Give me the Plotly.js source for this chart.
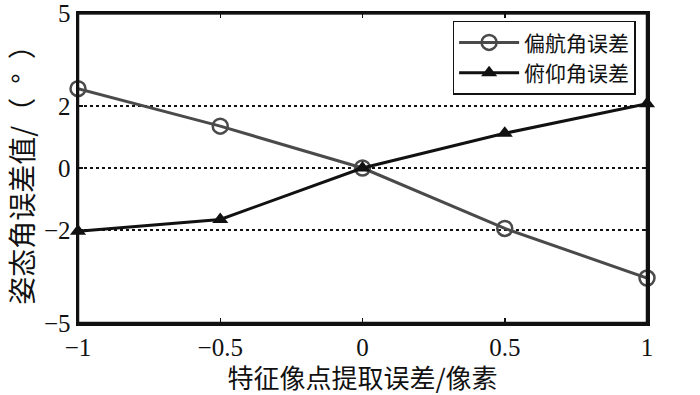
<!DOCTYPE html>
<html>
<head>
<meta charset="utf-8">
<script src="https://cdn.plot.ly/plotly-3.0.1.min.js"></script>
<style>html,body{margin:0;padding:0;background:#fff;}#chart{width:700px;height:395px;}</style>
</head>
<body>
<div id="chart"></div>
<script>
const xValues = [-1, -0.5, 0, 0.5, 1];
const yawError = [2.56, 1.35, 0, -1.95, -3.55];
const pitchError = [-2.04, -1.66, 0, 1.12, 2.07];
const seriesNames = ['偏航角误差', '俯仰角误差'];
const xTicks = [-1, -0.5, 0, 0.5, 1];
const xTickLabels = ['−1', '−0.5', '0', '0.5', '1'];
const yTicks = [-5, -2, 0, 2, 5];
const yTickLabels = ['−5', '−2', '0', '2', '5'];

const serif = 'Liberation Serif, Times New Roman, serif';
const cjk = 'Noto Sans CJK SC, sans-serif';

const traces = [
  {
    x: xValues, y: yawError, name: seriesNames[0], type: 'scatter', mode: 'lines+markers',
    line: {color: '#4a4a4a', width: 3},
    marker: {symbol: 'circle-open', size: 15, color: '#4a4a4a', line: {width: 2.5, color: '#4a4a4a'}},
    cliponaxis: false
  },
  {
    x: xValues, y: pitchError, name: seriesNames[1], type: 'scatter', mode: 'lines+markers',
    line: {color: '#111111', width: 3},
    marker: {symbol: 'triangle-up', size: 14, color: '#111111'},
    cliponaxis: false
  }
];

const layout = {
  width: 700, height: 395,
  margin: {l: 78, r: 53, t: 13, b: 72},
  paper_bgcolor: '#fff', plot_bgcolor: '#fff',
  showlegend: true,
  legend: {
    x: 0.98, y: 0.975, xanchor: 'right', yanchor: 'top',
    bordercolor: '#111', borderwidth: 1.5, bgcolor: '#fff',
    font: {family: cjk, size: 21, color: '#111'},
    itemwidth: 60,
    tracegroupgap: 0
  },
  xaxis: {
    range: [-1, 1], tickvals: xTicks, ticktext: xTickLabels,
    ticks: 'inside', ticklen: 5, tickwidth: 1.5, tickcolor: '#111',
    showline: true, linecolor: '#111', linewidth: 2.5, mirror: 'ticks',
    showgrid: false, zeroline: false, ticklabeloverflow: 'allow',
    tickfont: {family: serif, size: 25, color: '#111'},
    title: {text: '特征像点提取误差/像素', font: {family: cjk, size: 26, color: '#111'}, standoff: 6}
  },
  yaxis: {
    range: [-5, 5], tickvals: yTicks, ticktext: yTickLabels,
    ticks: 'inside', ticklen: 5, tickwidth: 1.5, tickcolor: '#111',
    showline: true, linecolor: '#111', linewidth: 2.5, mirror: 'ticks',
    showgrid: true, gridcolor: '#111', gridwidth: 2, griddash: 'dot',
    zeroline: false, ticklabeloverflow: 'allow',
    tickfont: {family: serif, size: 25, color: '#111'},
    title: {text: '姿态角误差值/（\u2002°\u2002）', font: {family: cjk, size: 28, color: '#111'}, standoff: 2}
  },
  shapes: [
    {type: 'line', xref: 'paper', yref: 'paper', x0: 0, x1: 1, y0: 1, y1: 1,
     line: {color: '#000', width: 3}, layer: 'above'},
    {type: 'rect', xref: 'paper', yref: 'paper', x0: 0, x1: 1, y0: 0, y1: 1,
     line: {color: '#111', width: 2.5}, fillcolor: 'rgba(0,0,0,0)', layer: 'above'}
  ]
};

Plotly.newPlot('chart', traces, layout, {displayModeBar: false, staticPlot: true});
</script>
</body>
</html>
